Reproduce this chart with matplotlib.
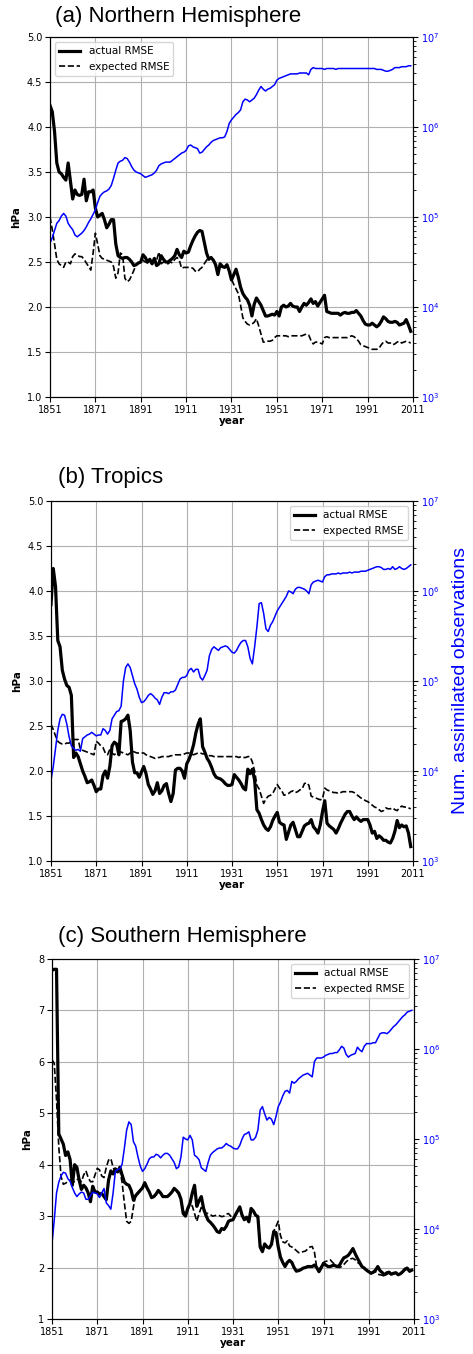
import matplotlib
matplotlib.use("Agg")
import matplotlib.pyplot as plt
import numpy as np

# yearly values, 1851..2010
start_year = 1851

nh_actual = [
    4.24, 4.17, 3.95, 3.60, 3.50, 3.48, 3.44, 3.41, 3.60, 3.40,
    3.20, 3.30, 3.25, 3.24, 3.25, 3.42, 3.18, 3.28, 3.28, 3.30,
    3.10, 3.00, 3.02, 3.04, 2.97, 2.88, 2.92, 2.97, 2.97, 2.70,
    2.57, 2.55, 2.54, 2.55, 2.55, 2.53, 2.50, 2.46, 2.47, 2.49,
    2.50, 2.58, 2.55, 2.50, 2.53, 2.48, 2.54, 2.46, 2.48, 2.57,
    2.53, 2.50, 2.50, 2.52, 2.54, 2.57, 2.64, 2.58, 2.55, 2.62,
    2.60, 2.61, 2.68, 2.74, 2.79, 2.83, 2.85, 2.84, 2.72, 2.60,
    2.53, 2.55, 2.52, 2.47, 2.36, 2.48, 2.45, 2.44, 2.47, 2.40,
    2.30, 2.36, 2.42, 2.33, 2.22, 2.15, 2.11, 2.08, 2.02, 1.90,
    2.03, 2.10, 2.06, 2.02, 1.96, 1.90, 1.90, 1.91, 1.92, 1.91,
    1.95, 1.90, 2.00, 2.02, 2.00, 2.01, 2.04, 2.01, 2.00, 2.00,
    1.95, 2.00, 2.04, 2.02, 2.05, 2.09, 2.04, 2.06, 2.01, 2.05,
    2.09, 2.13, 1.95, 1.94, 1.93, 1.93, 1.93, 1.93, 1.91, 1.93,
    1.94, 1.93, 1.93, 1.94, 1.94, 1.96, 1.93, 1.90, 1.85, 1.81,
    1.80, 1.80, 1.82, 1.80, 1.78, 1.80, 1.84, 1.89, 1.87, 1.84,
    1.83, 1.83, 1.84, 1.83, 1.80, 1.81, 1.82, 1.86, 1.80, 1.73,
]
nh_expected = [
    3.00, 2.86, 2.70, 2.53, 2.48, 2.46, 2.44, 2.50, 2.50, 2.48,
    2.56, 2.59, 2.58, 2.56, 2.56, 2.53, 2.49, 2.45, 2.41, 2.60,
    2.82, 2.70, 2.57, 2.54, 2.53, 2.52, 2.51, 2.50, 2.45, 2.32,
    2.38, 2.60, 2.58, 2.32, 2.28, 2.30, 2.35, 2.41, 2.47, 2.49,
    2.50, 2.52, 2.50, 2.49, 2.50, 2.48, 2.50, 2.52, 2.61, 2.48,
    2.50, 2.49, 2.48, 2.50, 2.49, 2.53, 2.55, 2.52, 2.43, 2.44,
    2.44, 2.44, 2.44, 2.43, 2.40, 2.39, 2.42, 2.44, 2.48, 2.52,
    2.54, 2.55, 2.52, 2.46, 2.37, 2.47, 2.44, 2.43, 2.46, 2.39,
    2.31, 2.25, 2.20, 2.15, 2.02, 1.88, 1.84, 1.81, 1.80, 1.81,
    1.83, 1.87, 1.79, 1.70, 1.61, 1.61, 1.62, 1.62, 1.63, 1.66,
    1.68, 1.68, 1.68, 1.68, 1.68, 1.67, 1.68, 1.68, 1.68, 1.68,
    1.68, 1.68, 1.69, 1.70, 1.69, 1.63, 1.59, 1.61, 1.61, 1.60,
    1.59, 1.66, 1.67, 1.66, 1.66, 1.66, 1.66, 1.66, 1.66, 1.66,
    1.66, 1.66, 1.67, 1.68, 1.67, 1.65, 1.62, 1.58, 1.57, 1.56,
    1.55, 1.54, 1.53, 1.53, 1.53, 1.54, 1.58, 1.61, 1.62, 1.60,
    1.60, 1.58, 1.59, 1.61, 1.62, 1.60, 1.61, 1.62, 1.61, 1.60,
]
# log10 of the number of assimilated observations
nh_obs_log = [
    4.71, 4.77, 4.85, 4.93, 4.96, 5.01, 5.04, 5.01, 4.93, 4.89,
    4.86, 4.80, 4.78, 4.80, 4.82, 4.85, 4.89, 4.94, 4.98, 5.03,
    5.08, 5.16, 5.23, 5.26, 5.28, 5.29, 5.31, 5.35, 5.43, 5.52,
    5.60, 5.62, 5.63, 5.66, 5.65, 5.61, 5.56, 5.52, 5.50, 5.49,
    5.48, 5.46, 5.44, 5.45, 5.46, 5.47, 5.49, 5.52, 5.57, 5.59,
    5.60, 5.61, 5.61, 5.61, 5.63, 5.65, 5.67, 5.69, 5.71, 5.72,
    5.74, 5.79, 5.80, 5.78, 5.77, 5.76, 5.71, 5.72, 5.75, 5.78,
    5.80, 5.83, 5.85, 5.86, 5.87, 5.88, 5.88, 5.89, 5.95, 6.04,
    6.08, 6.11, 6.14, 6.16, 6.19, 6.28, 6.31, 6.30, 6.28, 6.30,
    6.32, 6.36, 6.41, 6.45, 6.42, 6.40, 6.42, 6.43, 6.45, 6.47,
    6.52, 6.54, 6.55, 6.56, 6.57, 6.58, 6.59, 6.59, 6.59, 6.59,
    6.60, 6.60, 6.60, 6.60, 6.58, 6.64, 6.66, 6.65, 6.65, 6.65,
    6.65, 6.64, 6.65, 6.65, 6.65, 6.65, 6.64, 6.65, 6.65, 6.65,
    6.65, 6.65, 6.65, 6.65, 6.65, 6.65, 6.65, 6.65, 6.65, 6.65,
    6.65, 6.65, 6.65, 6.65, 6.64, 6.64, 6.64, 6.63, 6.62, 6.62,
    6.63, 6.64, 6.66, 6.66, 6.66, 6.67, 6.67, 6.67, 6.68, 6.68,
]

tr_actual = [
    3.85, 4.25, 4.05, 3.45, 3.38, 3.12, 3.02, 2.95, 2.93, 2.84,
    2.15, 2.20, 2.16, 2.08, 2.00, 1.94, 1.87, 1.88, 1.90, 1.84,
    1.77, 1.80, 1.80, 1.95, 2.00, 1.92, 2.05, 2.28, 2.32, 2.30,
    2.18, 2.55, 2.56, 2.58, 2.62, 2.45, 2.10, 1.98, 1.98, 1.93,
    1.99, 2.05, 1.97, 1.85, 1.80, 1.74, 1.78, 1.87, 1.75, 1.78,
    1.84, 1.86, 1.75, 1.66, 1.75, 2.01, 2.03, 2.03, 2.00, 1.92,
    2.08, 2.13, 2.20, 2.29, 2.42, 2.52, 2.58, 2.27, 2.21, 2.14,
    2.10, 2.04, 1.97, 1.93, 1.92, 1.91, 1.89, 1.86, 1.84, 1.84,
    1.85, 1.96, 1.93, 1.90, 1.86, 1.81, 1.79, 2.02, 1.97, 2.02,
    1.90, 1.57, 1.53, 1.46, 1.40, 1.36, 1.34, 1.38, 1.45, 1.50,
    1.54, 1.43, 1.41, 1.40, 1.24, 1.32, 1.40, 1.43, 1.35, 1.27,
    1.27, 1.33, 1.39, 1.41, 1.42, 1.46, 1.38, 1.35, 1.31, 1.40,
    1.55, 1.67, 1.42, 1.39, 1.37, 1.35, 1.31, 1.36, 1.42, 1.47,
    1.52, 1.55, 1.55, 1.50, 1.46, 1.49, 1.46, 1.44, 1.46, 1.46,
    1.46, 1.40, 1.31, 1.33, 1.25, 1.28, 1.26, 1.23, 1.23, 1.21,
    1.20, 1.25, 1.33, 1.45, 1.37, 1.40, 1.38, 1.39, 1.31, 1.16,
]
tr_expected = [
    2.52, 2.46, 2.39, 2.33, 2.31, 2.30, 2.30, 2.31, 2.31, 2.33,
    2.35, 2.35, 2.35, 2.24, 2.23, 2.22, 2.21, 2.20, 2.19, 2.18,
    2.33, 2.31, 2.28, 2.26, 2.20, 2.18, 2.24, 2.20, 2.18, 2.20,
    2.22, 2.21, 2.20, 2.19, 2.18, 2.20, 2.22, 2.21, 2.20, 2.20,
    2.20, 2.20, 2.18, 2.17, 2.16, 2.15, 2.14, 2.15, 2.15, 2.16,
    2.16, 2.16, 2.16, 2.17, 2.17, 2.18, 2.18, 2.18, 2.18, 2.19,
    2.20, 2.20, 2.19, 2.18, 2.19, 2.20, 2.20, 2.19, 2.19, 2.18,
    2.17, 2.17, 2.16, 2.16, 2.16, 2.16, 2.16, 2.16, 2.16, 2.16,
    2.16, 2.16, 2.16, 2.15, 2.16, 2.15, 2.15, 2.16, 2.16, 2.10,
    2.00, 1.84, 1.80, 1.72, 1.64, 1.69, 1.72, 1.73, 1.75, 1.80,
    1.85, 1.81, 1.78, 1.73, 1.74, 1.75, 1.77, 1.78, 1.76, 1.77,
    1.79, 1.80, 1.86, 1.87, 1.84, 1.72, 1.71, 1.70, 1.69, 1.68,
    1.69, 1.81, 1.79, 1.78, 1.77, 1.76, 1.76, 1.75, 1.76, 1.77,
    1.77, 1.77, 1.77, 1.77, 1.76, 1.74, 1.72, 1.70, 1.69, 1.67,
    1.66, 1.64, 1.62, 1.60, 1.59, 1.57, 1.55, 1.56, 1.59, 1.58,
    1.58, 1.59, 1.57, 1.56, 1.59, 1.61, 1.60, 1.60, 1.59, 1.58,
]
tr_obs_log = [
    3.90, 4.05, 4.25, 4.45, 4.58, 4.63, 4.62, 4.52, 4.38, 4.28,
    4.25, 4.23, 4.24, 4.22, 4.36, 4.38, 4.40, 4.41, 4.43, 4.41,
    4.39, 4.40, 4.40, 4.47, 4.45, 4.41, 4.45, 4.58, 4.62, 4.66,
    4.67, 4.72, 5.00, 5.15, 5.19, 5.15, 5.06, 4.97, 4.91, 4.82,
    4.76, 4.77, 4.80, 4.84, 4.86, 4.84, 4.81, 4.79, 4.74, 4.82,
    4.87, 4.87, 4.86, 4.88, 4.88, 4.90, 4.96, 5.02, 5.04, 5.04,
    5.06, 5.12, 5.14, 5.10, 5.13, 5.13, 5.04, 5.01, 5.06, 5.12,
    5.28, 5.35, 5.38, 5.36, 5.34, 5.37, 5.38, 5.39, 5.38, 5.35,
    5.32, 5.31, 5.34, 5.39, 5.43, 5.45, 5.45, 5.38, 5.25, 5.19,
    5.38, 5.60, 5.86, 5.87, 5.75, 5.58, 5.55, 5.62, 5.66, 5.72,
    5.78, 5.82, 5.86, 5.90, 5.94, 6.00, 5.99, 5.97, 6.02, 6.04,
    6.04, 6.03, 6.02, 6.00, 5.97, 6.07, 6.10, 6.11, 6.12, 6.11,
    6.10, 6.16, 6.18, 6.18, 6.19, 6.19, 6.19, 6.20, 6.19, 6.20,
    6.20, 6.20, 6.21, 6.20, 6.21, 6.21, 6.21, 6.22, 6.22, 6.22,
    6.23, 6.24, 6.25, 6.26, 6.27, 6.27, 6.26, 6.24, 6.24, 6.25,
    6.24, 6.27, 6.24, 6.25, 6.27, 6.25, 6.24, 6.25, 6.27, 6.29,
]

sh_actual = [
    7.78, 7.80, 7.80, 4.60, 4.50, 4.40, 4.18, 4.25, 4.10, 3.60,
    4.00, 3.95, 3.70, 3.52, 3.60, 3.55, 3.45, 3.28, 3.58, 3.47,
    3.47, 3.43, 3.44, 3.38, 3.32, 3.70, 3.88, 3.82, 3.92, 3.86,
    3.95, 3.80, 3.66, 3.62, 3.60, 3.50, 3.31, 3.40, 3.45, 3.50,
    3.55, 3.65, 3.55, 3.47, 3.36, 3.38, 3.43, 3.50, 3.45, 3.38,
    3.38, 3.38, 3.42, 3.47, 3.54, 3.50, 3.45, 3.33, 3.05, 3.00,
    3.15, 3.25, 3.45, 3.60, 3.19, 3.30, 3.38, 3.15, 3.02, 2.92,
    2.88, 2.83, 2.77, 2.70, 2.68, 2.76, 2.74, 2.80, 2.90, 2.92,
    2.93, 3.02, 3.10, 3.18, 3.02, 2.93, 2.98, 2.89, 3.15, 3.10,
    3.02, 2.99, 2.40, 2.31, 2.46, 2.40, 2.38, 2.45, 2.70, 2.68,
    2.40, 2.20, 2.10, 2.02, 2.10, 2.14, 2.10, 2.00, 1.93, 1.94,
    1.96, 1.99, 2.00, 2.02, 2.02, 2.02, 2.05, 2.00, 1.92, 2.00,
    2.08, 2.05, 2.02, 2.02, 2.04, 2.04, 2.02, 2.04, 2.12, 2.19,
    2.21, 2.24, 2.30, 2.37, 2.27, 2.18, 2.10, 2.02, 1.99, 1.95,
    1.92, 1.89, 1.91, 1.95, 2.02, 1.94, 1.90, 1.86, 1.90, 1.91,
    1.87, 1.89, 1.90, 1.86, 1.88, 1.92, 1.97, 1.99, 1.93, 1.95,
]
sh_expected = [
    6.04, 5.97, 5.26, 4.35, 3.77, 3.62, 3.64, 3.67, 3.70, 3.69,
    3.67, 3.71, 3.72, 3.67, 3.80, 3.88, 3.75, 3.67, 3.67, 3.80,
    3.93, 3.90, 3.78, 3.75, 3.95, 4.09, 4.12, 3.95, 3.85, 3.86,
    3.90, 3.65, 3.25, 2.90, 2.86, 2.90, 3.18, 3.42, 3.46, 3.50,
    3.54, 3.63, 3.55, 3.47, 3.37, 3.38, 3.42, 3.49, 3.45, 3.39,
    3.38, 3.39, 3.42, 3.47, 3.52, 3.49, 3.43, 3.30, 3.10, 3.05,
    3.12, 3.22, 3.20, 3.05, 2.90, 3.05, 3.17, 3.10, 3.06, 3.05,
    3.03, 3.00, 3.01, 3.02, 3.01, 2.99, 3.00, 3.04, 3.05, 3.00,
    2.96, 3.00, 3.08, 3.16, 3.01, 2.94, 2.97, 2.90, 3.13, 3.09,
    3.01, 2.97, 2.45, 2.33, 2.47, 2.41, 2.39, 2.47, 2.71, 2.80,
    2.90, 2.62, 2.50, 2.48, 2.52, 2.42, 2.40, 2.37, 2.33, 2.29,
    2.29, 2.31, 2.32, 2.36, 2.40, 2.41, 2.30, 2.00, 1.95, 2.03,
    2.10, 2.12, 2.13, 2.15, 2.10, 2.06, 2.03, 2.00, 2.02, 2.06,
    2.11, 2.15, 2.17, 2.18, 2.15, 2.10, 2.07, 2.01, 1.98, 1.95,
    1.91, 1.88, 1.90, 1.92, 1.87, 1.86, 1.85, 1.83, 1.87, 1.89,
    1.86, 1.88, 1.89, 1.86, 1.87, 1.91, 1.95, 1.97, 1.92, 1.93,
]
sh_obs_log = [
    3.84, 4.10, 4.40, 4.52, 4.59, 4.63, 4.62, 4.56, 4.53, 4.46,
    4.40, 4.36, 4.39, 4.41, 4.40, 4.33, 4.33, 4.37, 4.41, 4.40,
    4.39, 4.35, 4.40, 4.45, 4.29, 4.26, 4.22, 4.40, 4.64, 4.66,
    4.67, 4.72, 4.90, 5.10, 5.19, 5.16, 4.97, 4.92, 4.80, 4.70,
    4.64, 4.67, 4.72, 4.78, 4.80, 4.80, 4.83, 4.82, 4.79, 4.82,
    4.84, 4.84, 4.82, 4.78, 4.74, 4.67, 4.69, 4.80, 5.02, 5.00,
    4.99, 5.04, 4.99, 4.82, 4.80, 4.77, 4.68, 4.66, 4.64, 4.74,
    4.82, 4.85, 4.87, 4.89, 4.90, 4.90, 4.92, 4.95, 4.93, 4.92,
    4.90, 4.89, 4.89, 4.93, 5.00, 5.05, 5.06, 5.08, 4.99, 4.99,
    5.02, 5.10, 5.32, 5.36, 5.28, 5.21, 5.24, 5.22, 5.16, 5.25,
    5.36, 5.41, 5.48, 5.53, 5.54, 5.51, 5.64, 5.62, 5.64, 5.67,
    5.69, 5.71, 5.72, 5.73, 5.71, 5.69, 5.86, 5.90, 5.90, 5.90,
    5.91, 5.93, 5.94, 5.95, 5.95, 5.96, 5.96, 5.99, 6.03, 6.01,
    5.94, 5.91, 5.93, 5.94, 5.95, 6.02, 5.99, 5.97, 6.03, 6.06,
    6.06, 6.06, 6.07, 6.07, 6.12, 6.17, 6.18, 6.18, 6.17, 6.19,
    6.22, 6.25, 6.27, 6.30, 6.33, 6.36, 6.38, 6.41, 6.42, 6.43,
]

panel_titles = ["(a) Northern Hemisphere", "(b) Tropics", "(c) Southern Hemisphere"]
xticks = [1851, 1871, 1891, 1911, 1931, 1951, 1971, 1991, 2011]

W, H = 473, 1354
fig = plt.figure(figsize=(W / 100, H / 100), dpi=100)

# pixel boxes (left, top, right, bottom) and title anchor
boxes = [(50, 37, 413, 397), (51, 501, 413, 861), (52, 959, 414, 1319)]
title_xy = [(55, 22), (58, 483), (58, 942)]
ylims = [(1.0, 5.0), (1.0, 5.0), (1, 8)]
yticks = [np.arange(1.0, 5.01, 0.5), np.arange(1.0, 5.01, 0.5), np.arange(1, 9)]
legend_loc = ["upper left", "upper right", "upper right"]
data = [(nh_actual, nh_expected, nh_obs_log),
        (tr_actual, tr_expected, tr_obs_log),
        (sh_actual, sh_expected, sh_obs_log)]

for i in range(3):
    l, t, r, b = boxes[i]
    ax = fig.add_axes([l / W, 1 - b / H, (r - l) / W, (b - t) / H])
    act, exp_, obs = data[i]
    yrs = np.arange(start_year, start_year + len(act))
    ax.plot(yrs, act, color="black", lw=2.3, label="actual RMSE")
    yrs = np.arange(start_year, start_year + len(exp_))
    ax.plot(yrs, exp_, color="black", lw=1.2, ls="--", label="expected RMSE")
    ax.set_xlim(1851, 2011)
    ax.set_ylim(*ylims[i])
    ax.set_xticks(xticks)
    ax.set_yticks(yticks[i])
    if i < 2:
        ax.set_yticklabels(["%.1f" % v for v in yticks[i]])
    ax.grid(True, color="#b0b0b0", lw=0.8)
    ax.tick_params(labelsize=7, length=3.5, width=0.8, pad=2)
    ax.set_ylabel("hPa", fontsize=7.5, fontweight="bold", labelpad=4)
    ax.set_xlabel("year", fontsize=7.5, fontweight="bold", labelpad=1)
    ax.legend(loc=legend_loc[i], fontsize=7.5, handlelength=2.0)

    tw = ax.twinx()
    yrs = np.arange(start_year, start_year + len(obs))
    tw.plot(yrs, 10 ** np.array(obs), color="blue", lw=1.1)
    tw.set_yscale("log")
    tw.set_ylim(1e3, 1e7)
    tw.set_xlim(1851, 2011)
    tw.tick_params(axis="y", labelsize=7, labelcolor="blue", pad=2)
    if i == 1:
        tw.set_ylabel("Num. assimilated observations", color="blue",
                      fontsize=14, family="Liberation Sans")
        # right-side label is anchored at its top, which faces left
        tw.yaxis.set_label_coords((452 - l) / (r - l), 0.5)

    fig.text(title_xy[i][0] / W, 1 - title_xy[i][1] / H, panel_titles[i],
             fontsize=16, family="Liberation Sans", va="baseline", ha="left")

fig.savefig("out.png", dpi=100)
